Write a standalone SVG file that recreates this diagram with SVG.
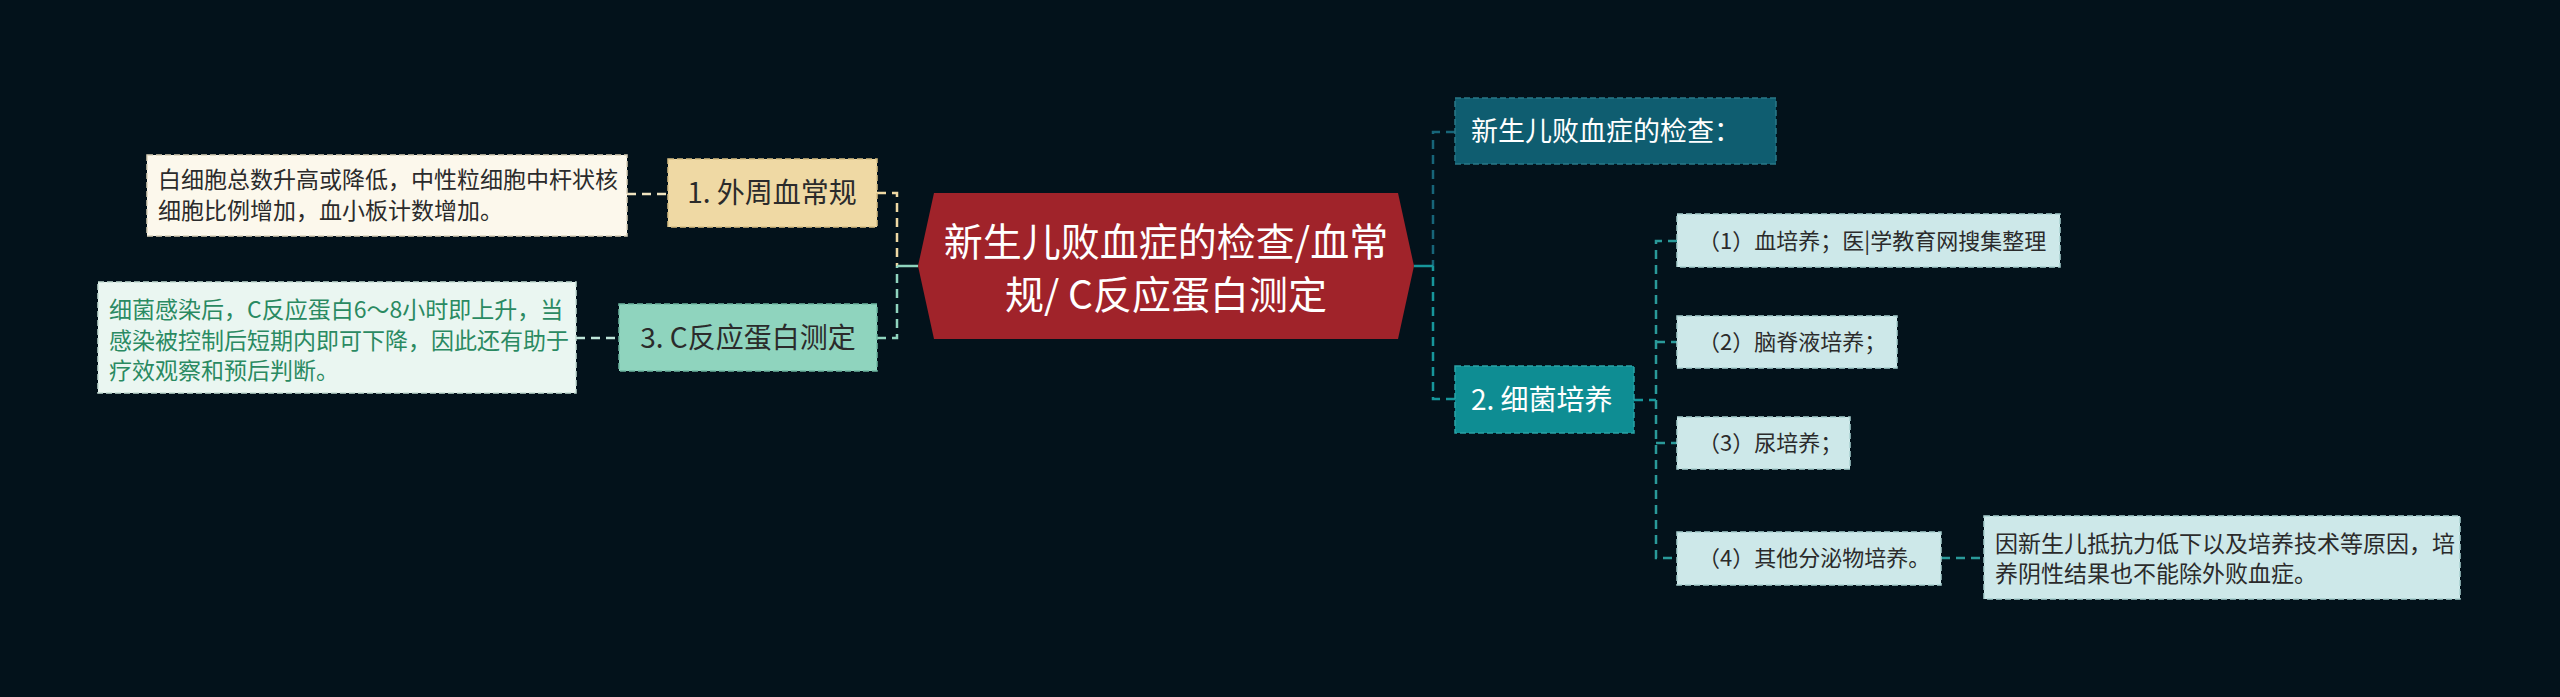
<svg xmlns="http://www.w3.org/2000/svg" width="2560" height="697" viewBox="0 0 2560 697">
<style>
text{font-family:"Noto Sans CJK SC","Noto Sans",sans-serif;}
.bd{stroke-width:1.5;stroke-dasharray:6 3;}
.cn{fill:none;stroke-width:2.5;stroke-dasharray:9 6;}
.t22{font-size:22px;}
.t23{font-size:23px;}
.t28{font-size:28px;}
</style>
<rect width="2560" height="697" fill="#03121b"/>
<g id="connectors">
  <line class="cn" x1="627" y1="194" x2="668" y2="194" stroke="#efe3c0"/>
  <line class="cn" x1="576" y1="338" x2="619" y2="338" stroke="#bfe6da"/>
  <path class="cn" d="M877 193 H897 V266" stroke="#efd9a4"/>
  <path class="cn" d="M877 338 H897 V266" stroke="#8fd4be"/>
  <line x1="897" y1="266" x2="918" y2="266" stroke="#8fd4be" stroke-width="2.5"/>
  <path class="cn" d="M1455 132 H1433 V266" stroke="#176579"/>
  <path class="cn" d="M1455 399 H1433 V266" stroke="#17969b"/>
  <line x1="1414" y1="266" x2="1433" y2="266" stroke="#17969b" stroke-width="2.5"/>
  <path class="cn" d="M1634 400 H1656" stroke="#17969b"/>
  <path class="cn" d="M1677 241 H1656 V558 H1677" stroke="#2a9a9a"/>
  <line class="cn" x1="1656" y1="342" x2="1677" y2="342" stroke="#2a9a9a"/>
  <line class="cn" x1="1656" y1="443" x2="1677" y2="443" stroke="#2a9a9a"/>
  <line class="cn" x1="1941" y1="558" x2="1984" y2="558" stroke="#2a9a9a"/>
</g>
<g id="center">
  <polygon points="918,266 934,193 1398,193 1414,266 1398,339 934,339" fill="#a0232a"/>
  <text x="1166" y="256" font-size="39" fill="#ffffff" text-anchor="middle">新生儿败血症的检查/血常</text>
  <text x="1166" y="309" font-size="39" fill="#ffffff" text-anchor="middle">规/ C反应蛋白测定</text>
</g>
<g id="n1">
  <rect class="bd" x="668" y="159" width="209" height="68" fill="#efd9a4" stroke="#d8bf84"/>
  <text class="t28" x="772" y="203" fill="#2b2b2b" text-anchor="middle">1. 外周血常规</text>
</g>
<g id="n1d">
  <rect class="bd" x="147" y="155" width="480" height="81" fill="#fcf8ec" stroke="#d9d0b8"/>
  <text class="t23" x="158" y="188" fill="#2b2b2b">白细胞总数升高或降低，中性粒细胞中杆状核</text>
  <text class="t23" x="158" y="219" fill="#2b2b2b">细胞比例增加，血小板计数增加。</text>
</g>
<g id="n3">
  <rect class="bd" x="619" y="304" width="258" height="67" fill="#8fd4be" stroke="#6fb8a2"/>
  <text class="t28" x="748" y="348" fill="#2b2b2b" text-anchor="middle">3. C反应蛋白测定</text>
</g>
<g id="n3d">
  <rect class="bd" x="98" y="282" width="478" height="111" fill="#eaf6f1" stroke="#c4ddd3"/>
  <text class="t23" x="109" y="318" fill="#2a8a62">细菌感染后，C反应蛋白6～8小时即上升，当</text>
  <text class="t23" x="109" y="349" fill="#2a8a62">感染被控制后短期内即可下降，因此还有助于</text>
  <text class="t23" x="109" y="379" fill="#2a8a62">疗效观察和预后判断。</text>
</g>
<g id="r1">
  <rect class="bd" x="1455" y="98" width="321" height="66" fill="#0f5d70" stroke="#2a7888"/>
  <text x="1471" y="141" font-size="27" fill="#ffffff">新生儿败血症的检查：</text>
</g>
<g id="r2">
  <rect class="bd" x="1455" y="366" width="179" height="67" fill="#0e8d93" stroke="#2aa2a6"/>
  <text class="t28" x="1471" y="410" fill="#ffffff">2. 细菌培养</text>
</g>
<g id="c1">
  <rect class="bd" x="1677" y="214" width="383" height="53" fill="#cde8e9" stroke="#a8cfd0"/>
  <text class="t22" x="1698" y="249" fill="#2b2b2b">（1）血培养；医|学教育网搜集整理</text>
</g>
<g id="c2">
  <rect class="bd" x="1677" y="316" width="220" height="52" fill="#cde8e9" stroke="#a8cfd0"/>
  <text class="t22" x="1698" y="350" fill="#2b2b2b">（2）脑脊液培养；</text>
</g>
<g id="c3">
  <rect class="bd" x="1677" y="417" width="173" height="52" fill="#cde8e9" stroke="#a8cfd0"/>
  <text class="t22" x="1698" y="451" fill="#2b2b2b">（3）尿培养；</text>
</g>
<g id="c4">
  <rect class="bd" x="1677" y="532" width="264" height="53" fill="#cde8e9" stroke="#a8cfd0"/>
  <text class="t22" x="1698" y="566" fill="#2b2b2b">（4）其他分泌物培养。</text>
</g>
<g id="c4d">
  <rect class="bd" x="1984" y="516" width="476" height="83" fill="#cde8e9" stroke="#a8cfd0"/>
  <text class="t23" x="1995" y="552" fill="#2b2b2b">因新生儿抵抗力低下以及培养技术等原因，培</text>
  <text class="t23" x="1995" y="582" fill="#2b2b2b">养阴性结果也不能除外败血症。</text>
</g>
</svg>
